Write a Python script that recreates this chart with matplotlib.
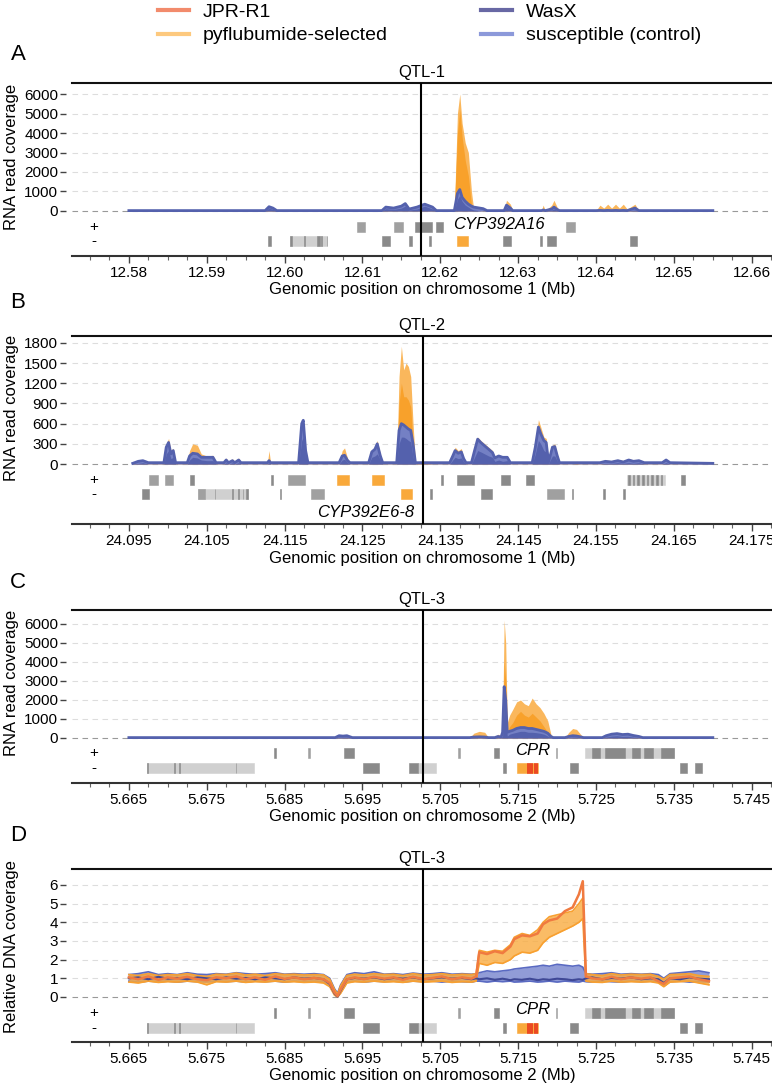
import matplotlib
matplotlib.use('Agg')
import matplotlib.pyplot as plt
from matplotlib.lines import Line2D
from matplotlib.ticker import MultipleLocator, FormatStrFormatter

plt.rcParams['font.family'] = ['Liberation Sans', 'DejaVu Sans']

# 色
ORANGE = '#F8A12B'
ORANGE_LIGHT = '#FAB75C'
BLUE = '#5461AD'
BLUE_LIGHT = '#7480C4'
JPR_COL = '#F07A40'
WASX_COL = '#3F4896'
GENE_COLS = {'l': '#D0D0D0', 'm': '#A0A0A0', 'd': '#8A8A8A', 'o': '#F9A93B', 'r': '#E8301C'}

legend_labels = ['JPR-R1', 'pyflubumide-selected', 'WasX', 'susceptible (control)']
legend_cols = ['#F28B6C', '#FDC97E', '#6868A4', '#8C99DA']

# ---- A: QTL-1, RNA coverage (chromosome 1) ----
a_ticks = [12.58, 12.59, 12.60, 12.61, 12.62, 12.63, 12.64, 12.65, 12.66]
a_qtl = 12.6175
a_pos = [12.5800, 12.5975, 12.5980, 12.5985, 12.5990, 12.6000, 12.6010, 12.6045, 12.6050, 12.6125,
         12.6130, 12.6140, 12.6150, 12.6155, 12.6160, 12.6170, 12.6180, 12.6190, 12.6195, 12.6205,
         12.6218, 12.6222, 12.6225, 12.6228, 12.6232, 12.6236, 12.6240, 12.6243, 12.6255, 12.6260,
         12.6282, 12.6285, 12.6290, 12.6293, 12.6330, 12.6332, 12.6335, 12.6343, 12.6346, 12.6350,
         12.6353, 12.6400, 12.6405, 12.6410, 12.6415, 12.6420, 12.6425, 12.6430, 12.6435, 12.6440,
         12.6450, 12.6455, 12.6550]
a_orange_hi = [20, 20, 280, 180, 20, 60, 20, 70, 20, 20,
               250, 200, 300, 450, 150, 250, 420, 250, 20, 60,
               20, 5000, 6000, 4500, 3500, 3000, 1000, 50, 20, 20,
               20, 550, 350, 20, 20, 300, 20, 300, 550, 200,
               20, 20, 300, 150, 350, 150, 350, 150, 350, 100,
               350, 20, 20]
a_orange_lo = [0, 0, 150, 80, 0, 0, 0, 0, 0, 0,
               120, 100, 150, 250, 50, 100, 250, 100, 0, 0,
               0, 4000, 5200, 3800, 2600, 1800, 300, 0, 0, 0,
               0, 300, 150, 0, 0, 100, 0, 100, 250, 50,
               0, 0, 100, 50, 100, 50, 100, 50, 100, 20,
               100, 0, 0]
a_blue_hi = [20, 20, 220, 150, 20, 20, 20, 20, 20, 20,
             200, 150, 250, 380, 100, 200, 350, 200, 20, 20,
             20, 900, 1100, 700, 500, 350, 250, 200, 120, 20,
             20, 300, 150, 20, 20, 50, 20, 100, 200, 80,
             20, 20, 30, 20, 30, 20, 30, 20, 30, 20,
             150, 20, 20]
a_blue_lo = [0, 0, 150, 80, 0, 0, 0, 0, 0, 0,
             120, 80, 150, 250, 50, 100, 250, 100, 0, 0,
             0, 600, 800, 500, 300, 200, 100, 50, 0, 0,
             0, 200, 80, 0, 0, 0, 0, 50, 100, 30,
             0, 0, 0, 0, 0, 0, 0, 0, 0, 0,
             50, 0, 0]
a_genes = [
    (12.6093, 12.6103, '+', 'm'), (12.6140, 12.6152, '+', 'm'), (12.6167, 12.6189, '+', 'd'),
    (12.6195, 12.6204, '+', 'd'), (12.6362, 12.6373, '+', 'm'),
    (12.5979, 12.5982, '-', 'd'), (12.6007, 12.6055, '-', 'l'), (12.6007, 12.6009, '-', 'd'),
    (12.6025, 12.6026, '-', 'd'), (12.6041, 12.6045, '-', 'd'), (12.6047, 12.6048, '-', 'd'),
    (12.6054, 12.6055, '-', 'd'), (12.6125, 12.6136, '-', 'd'), (12.6160, 12.6163, '-', 'd'),
    (12.6186, 12.6188, '-', 'd'), (12.6221, 12.6236, '-', 'o'), (12.6280, 12.6291, '-', 'd'),
    (12.6328, 12.6330, '-', 'd'), (12.6337, 12.6348, '-', 'd'), (12.6444, 12.6453, '-', 'd'),
]

# ---- B: QTL-2, RNA coverage (chromosome 1) ----
b_ticks = [24.095, 24.105, 24.115, 24.125, 24.135, 24.145, 24.155, 24.165, 24.175]
b_qtl = 24.1328
b_pos = [24.0955, 24.0962, 24.0968, 24.0975, 24.0995, 24.0998, 24.1001, 24.1004, 24.1007, 24.1010,
         24.1025, 24.1028, 24.1032, 24.1038, 24.1043, 24.1050, 24.1058, 24.1062, 24.1072, 24.1075,
         24.1078, 24.1083, 24.1086, 24.1091, 24.1094, 24.1128, 24.1130, 24.1132, 24.1168, 24.1172,
         24.1174, 24.1177, 24.1180, 24.1220, 24.1224, 24.1227, 24.1231, 24.1234, 24.1258, 24.1262,
         24.1266, 24.1269, 24.1273, 24.1276, 24.1294, 24.1297, 24.1300, 24.1303, 24.1306, 24.1309,
         24.1312, 24.1315, 24.1318, 24.1322, 24.1335, 24.1340, 24.1362, 24.1366, 24.1369, 24.1373,
         24.1377, 24.1380, 24.1383, 24.1390, 24.1394, 24.1398, 24.1402, 24.1407, 24.1412, 24.1417,
         24.1420, 24.1425, 24.1430, 24.1436, 24.1440, 24.1468, 24.1472, 24.1476, 24.1479, 24.1483,
         24.1486, 24.1489, 24.1494, 24.1497, 24.1500, 24.1503, 24.1520, 24.1525, 24.1530, 24.1555,
         24.1562, 24.1570, 24.1578, 24.1585, 24.1592, 24.1598, 24.1605, 24.1612, 24.1635, 24.1640,
         24.1645, 24.1700]
b_orange_hi = [10, 50, 60, 20, 30, 300, 380, 200, 230, 20,
               30, 200, 300, 280, 150, 120, 130, 20, 20, 90,
               20, 80, 20, 90, 20, 20, 200, 20, 20, 500,
               600, 150, 20, 20, 200, 240, 80, 20, 20, 200,
               250, 350, 150, 20, 20, 1300, 1750, 1400, 1500, 1450,
               1300, 600, 20, 40, 40, 20, 20, 150, 250, 200,
               230, 100, 20, 20, 250, 400, 350, 300, 250, 200,
               100, 140, 110, 120, 20, 20, 300, 660, 550, 400,
               380, 50, 280, 300, 150, 20, 20, 40, 20, 30,
               60, 50, 70, 50, 80, 60, 70, 30, 30, 80,
               20, 10]
b_orange_lo = [0, 10, 20, 0, 0, 150, 200, 80, 100, 0,
               0, 80, 150, 120, 60, 50, 50, 0, 0, 30,
               0, 20, 0, 20, 0, 0, 80, 0, 0, 250,
               300, 50, 0, 0, 80, 100, 20, 0, 0, 100,
               120, 150, 50, 0, 0, 900, 1200, 1000, 1000, 950,
               850, 300, 0, 10, 10, 0, 0, 60, 100, 80,
               90, 30, 0, 0, 100, 200, 180, 150, 120, 100,
               40, 60, 40, 50, 0, 0, 150, 300, 300, 200,
               180, 10, 120, 120, 50, 0, 0, 10, 0, 0,
               20, 10, 20, 10, 20, 20, 20, 0, 0, 20,
               0, 0]
b_blue_hi = [10, 40, 50, 20, 20, 250, 320, 150, 200, 20,
             20, 120, 160, 150, 100, 100, 100, 20, 20, 60,
             20, 50, 20, 60, 20, 20, 50, 20, 20, 600,
             650, 200, 20, 20, 120, 130, 50, 20, 20, 180,
             220, 300, 120, 20, 20, 500, 600, 580, 550, 520,
             500, 300, 20, 20, 20, 20, 20, 120, 200, 160,
             180, 80, 20, 20, 200, 370, 320, 270, 220, 170,
             90, 120, 100, 100, 20, 20, 250, 550, 450, 350,
             320, 30, 250, 260, 130, 20, 20, 20, 20, 20,
             40, 30, 50, 30, 60, 40, 50, 20, 20, 60,
             20, 10]
b_blue_lo = [0, 10, 20, 0, 0, 150, 200, 80, 100, 0,
             0, 60, 100, 90, 60, 50, 50, 0, 0, 20,
             0, 20, 0, 20, 0, 0, 20, 0, 0, 350,
             400, 80, 0, 0, 60, 70, 20, 0, 0, 100,
             120, 150, 60, 0, 0, 300, 400, 400, 380, 350,
             330, 100, 0, 0, 0, 0, 0, 60, 100, 80,
             90, 30, 0, 0, 100, 200, 180, 150, 120, 100,
             40, 60, 40, 50, 0, 0, 150, 350, 300, 200,
             180, 10, 120, 120, 50, 0, 0, 0, 0, 0,
             10, 10, 20, 10, 20, 10, 20, 0, 0, 20,
             0, 0]
b_genes = [
    (24.0976, 24.0987, '+', 'm'), (24.0997, 24.1007, '+', 'm'), (24.1028, 24.1034, '+', 'd'),
    (24.1133, 24.1135, '+', 'd'), (24.1154, 24.1176, '+', 'm'), (24.1217, 24.1233, '+', 'o'),
    (24.1262, 24.1278, '+', 'o'), (24.1351, 24.1353, '+', 'd'), (24.1371, 24.1393, '+', 'd'),
    (24.1428, 24.1439, '+', 'd'), (24.1460, 24.1470, '+', 'd'), (24.1590, 24.1639, '+', 'l'),
    (24.1591, 24.1593, '+', 'd'), (24.1597, 24.1599, '+', 'd'), (24.1603, 24.1605, '+', 'd'),
    (24.1609, 24.1611, '+', 'd'), (24.1615, 24.1617, '+', 'd'), (24.1621, 24.1623, '+', 'd'),
    (24.1627, 24.1629, '+', 'd'), (24.1633, 24.1635, '+', 'd'), (24.1659, 24.1664, '+', 'd'),
    (24.0967, 24.0976, '-', 'd'), (24.1039, 24.1103, '-', 'l'), (24.1039, 24.1048, '-', 'm'),
    (24.1060, 24.1061, '-', 'd'), (24.1083, 24.1084, '-', 'd'), (24.1090, 24.1091, '-', 'd'),
    (24.1096, 24.1097, '-', 'd'), (24.1101, 24.1103, '-', 'd'), (24.1144, 24.1146, '-', 'd'),
    (24.1184, 24.1201, '-', 'm'), (24.1299, 24.1314, '-', 'o'), (24.1337, 24.1339, '-', 'd'),
    (24.1402, 24.1417, '-', 'd'), (24.1487, 24.1509, '-', 'm'), (24.1519, 24.1521, '-', 'd'),
    (24.1559, 24.1561, '-', 'd'), (24.1585, 24.1587, '-', 'd'),
]

# ---- C / D: QTL-3 (chromosome 2) ----
cd_ticks = [5.665, 5.675, 5.685, 5.695, 5.705, 5.715, 5.725, 5.735, 5.745]
cd_qtl = 5.7028
c_pos = [5.6650, 5.6915, 5.6920, 5.6925, 5.6930, 5.6937, 5.7010, 5.7013, 5.7016, 5.7088,
         5.7093, 5.7100, 5.7107, 5.7112, 5.7120, 5.7124, 5.7128, 5.7130, 5.7132, 5.7134,
         5.7136, 5.7139, 5.7143, 5.7148, 5.7153, 5.7158, 5.7163, 5.7168, 5.7173, 5.7178,
         5.7183, 5.7188, 5.7192, 5.7195, 5.7210, 5.7215, 5.7220, 5.7225, 5.7230, 5.7234,
         5.7258, 5.7263, 5.7270, 5.7277, 5.7284, 5.7291, 5.7298, 5.7305, 5.7310, 5.7330,
         5.7340, 5.7360, 5.7380, 5.7400]
c_orange_hi = [20, 20, 100, 80, 110, 20, 20, 60, 20, 20,
               250, 350, 300, 20, 20, 200, 100, 600, 6200, 5000,
               800, 1200, 1500, 1900, 2000, 1800, 1700, 2100, 1800, 1600,
               1300, 900, 200, 20, 20, 300, 500, 450, 200, 20,
               20, 150, 250, 280, 200, 230, 150, 100, 20, 20,
               40, 30, 40, 20]
c_orange_lo = [0, 0, 30, 20, 30, 0, 0, 10, 0, 0,
               100, 150, 120, 0, 0, 50, 20, 200, 4000, 3000,
               300, 600, 800, 1200, 1400, 1200, 1100, 1300, 1100, 900,
               600, 300, 20, 0, 0, 100, 200, 200, 50, 0,
               0, 50, 100, 100, 80, 80, 50, 30, 0, 0,
               0, 0, 0, 0]
c_blue_hi = [20, 20, 120, 100, 120, 20, 20, 20, 20, 20,
             50, 60, 50, 20, 20, 80, 50, 300, 2700, 2000,
             300, 350, 400, 500, 550, 550, 500, 500, 450, 400,
             350, 250, 80, 20, 20, 80, 120, 100, 60, 20,
             20, 120, 200, 230, 180, 200, 130, 80, 20, 20,
             20, 20, 20, 20]
c_blue_lo = [0, 0, 50, 40, 50, 0, 0, 0, 0, 0,
             10, 10, 10, 0, 0, 20, 10, 100, 1600, 1000,
             100, 200, 250, 300, 350, 350, 300, 300, 280, 250,
             200, 100, 20, 0, 0, 20, 50, 40, 10, 0,
             0, 50, 100, 120, 80, 90, 50, 20, 0, 0,
             0, 0, 0, 0]

d_pos = [5.6650, 5.6662, 5.6675, 5.6688, 5.6700, 5.6712, 5.6725, 5.6738, 5.6750, 5.6762,
         5.6775, 5.6788, 5.6800, 5.6812, 5.6825, 5.6838, 5.6850, 5.6862, 5.6875, 5.6888,
         5.6900, 5.6908, 5.6914, 5.6918, 5.6922, 5.6930, 5.6940, 5.6952, 5.6965, 5.6978,
         5.6990, 5.7002, 5.7015, 5.7028, 5.7040, 5.7052, 5.7065, 5.7078, 5.7090, 5.7096,
         5.7100, 5.7110, 5.7120, 5.7130, 5.7140, 5.7145, 5.7155, 5.7165, 5.7175, 5.7182,
         5.7190, 5.7200, 5.7210, 5.7220, 5.7228, 5.7233, 5.7237, 5.7245, 5.7258, 5.7270,
         5.7282, 5.7295, 5.7308, 5.7320, 5.7330, 5.7337, 5.7345, 5.7358, 5.7370, 5.7382,
         5.7395]
d_jpr = [1.05, 0.95, 1.10, 0.92, 1.05, 0.98, 1.08, 0.95, 0.90, 1.05,
         1.00, 1.10, 0.95, 1.05, 0.92, 1.10, 0.97, 1.05, 0.95, 1.02,
         0.95, 0.75, 0.25, 0.05, 0.40, 0.95, 1.05, 0.95, 1.08, 0.98,
         1.05, 0.92, 1.08, 0.95, 1.02, 1.10, 0.95, 1.05, 0.98, 1.10,
         2.40, 2.30, 2.45, 2.35, 2.70, 3.10, 3.30, 3.25, 3.40, 3.90,
         4.10, 4.20, 4.60, 4.80, 5.50, 6.20, 1.10, 1.00, 0.95, 1.08,
         0.95, 1.05, 0.98, 1.05, 0.85, 0.70, 1.00, 1.05, 1.10, 0.95,
         0.85]
d_orange_hi = [1.20, 1.15, 1.25, 1.15, 1.20, 1.18, 1.25, 1.15, 1.10, 1.22,
               1.20, 1.28, 1.18, 1.22, 1.15, 1.25, 1.20, 1.22, 1.18, 1.20,
               1.18, 0.95, 0.40, 0.15, 0.60, 1.15, 1.22, 1.18, 1.25, 1.20,
               1.22, 1.15, 1.25, 1.18, 1.20, 1.25, 1.18, 1.22, 1.20, 1.25,
               2.50, 2.40, 2.50, 2.45, 2.80, 3.20, 3.40, 3.30, 3.60, 4.00,
               4.30, 4.40, 4.50, 4.60, 5.00, 5.30, 1.25, 1.20, 1.15, 1.25,
               1.18, 1.22, 1.20, 1.22, 1.10, 0.95, 1.20, 1.22, 1.25, 1.15,
               1.10]
d_orange_lo = [0.80, 0.75, 0.85, 0.78, 0.82, 0.80, 0.85, 0.80, 0.65, 0.82,
               0.80, 0.85, 0.78, 0.82, 0.80, 0.85, 0.80, 0.82, 0.78, 0.80,
               0.75, 0.55, 0.10, 0.00, 0.20, 0.75, 0.82, 0.80, 0.85, 0.80,
               0.82, 0.78, 0.85, 0.80, 0.82, 0.85, 0.78, 0.82, 0.80, 0.85,
               1.80, 1.70, 1.85, 1.80, 2.00, 2.20, 2.40, 2.35, 2.50, 2.90,
               3.20, 3.40, 3.60, 3.80, 4.00, 4.20, 0.85, 0.80, 0.78, 0.85,
               0.80, 0.82, 0.80, 0.82, 0.75, 0.55, 0.80, 0.82, 0.85, 0.75,
               0.65]
d_blue_hi = [1.20, 1.25, 1.35, 1.20, 1.25, 1.20, 1.30, 1.22, 1.20, 1.25,
             1.22, 1.30, 1.25, 1.22, 1.25, 1.30, 1.22, 1.25, 1.22, 1.25,
             1.20, 1.00, 0.45, 0.20, 0.65, 1.20, 1.30, 1.25, 1.35, 1.22,
             1.25, 1.20, 1.28, 1.22, 1.25, 1.30, 1.22, 1.25, 1.22, 1.25,
             1.30, 1.40, 1.35, 1.40, 1.45, 1.50, 1.55, 1.60, 1.65, 1.70,
             1.65, 1.75, 1.70, 1.65, 1.70, 1.60, 1.25, 1.22, 1.25, 1.30,
             1.22, 1.25, 1.22, 1.25, 1.20, 1.00, 1.25, 1.30, 1.35, 1.40,
             1.30]
d_blue_lo = [0.85, 0.80, 0.85, 0.82, 0.85, 0.80, 0.85, 0.82, 0.80, 0.85,
             0.82, 0.85, 0.80, 0.85, 0.82, 0.85, 0.80, 0.85, 0.82, 0.85,
             0.80, 0.60, 0.15, 0.00, 0.25, 0.80, 0.85, 0.80, 0.85, 0.82,
             0.85, 0.80, 0.85, 0.82, 0.85, 0.80, 0.85, 0.82, 0.80, 0.85,
             0.85, 0.80, 0.85, 0.82, 0.85, 0.80, 0.82, 0.85, 0.80, 0.82,
             0.85, 0.80, 0.85, 0.82, 0.80, 0.85, 0.82, 0.80, 0.85, 0.82,
             0.80, 0.85, 0.82, 0.85, 0.80, 0.60, 0.82, 0.85, 0.80, 0.82,
             0.80]
d_wasx = [1.00, 1.05, 0.95, 1.08, 0.98, 1.02, 0.95, 1.05, 1.00, 0.95,
          1.05, 0.98, 1.02, 0.95, 1.05, 1.00, 0.95, 1.05, 0.98, 1.02,
          0.95, 0.70, 0.20, 0.02, 0.35, 0.95, 1.02, 0.98, 1.05, 0.95,
          1.02, 0.98, 1.05, 0.95, 1.00, 1.05, 0.98, 1.02, 0.95, 1.00,
          0.95, 1.00, 0.92, 0.98, 0.90, 0.95, 0.92, 0.98, 0.90, 0.95,
          0.92, 0.98, 0.95, 0.90, 0.95, 0.92, 1.00, 1.05, 0.95, 1.02,
          0.98, 1.05, 0.95, 1.00, 0.95, 0.75, 1.00, 0.95, 1.05, 0.98,
          0.95]
cd_genes = [
    (5.6837, 5.6839, '+', 'd'), (5.6880, 5.6882, '+', 'm'), (5.6926, 5.6939, '+', 'd'),
    (5.7073, 5.7075, '+', 'm'), (5.7119, 5.7126, '+', 'd'), (5.7198, 5.7200, '+', 'm'),
    (5.7236, 5.7350, '+', 'l'), (5.7245, 5.7255, '+', 'd'), (5.7262, 5.7287, '+', 'd'),
    (5.7296, 5.7306, '+', 'd'), (5.7312, 5.7323, '+', 'd'), (5.7333, 5.7350, '+', 'd'),
    (5.6673, 5.6811, '-', 'l'), (5.6673, 5.6674, '-', 'd'), (5.6708, 5.6709, '-', 'd'),
    (5.6715, 5.6716, '-', 'd'), (5.6787, 5.6788, '-', 'd'), (5.6951, 5.6971, '-', 'd'),
    (5.7010, 5.7021, '-', 'd'), (5.7021, 5.7044, '-', 'l'), (5.7130, 5.7134, '-', 'd'),
    (5.7148, 5.7176, '-', 'o'), (5.7161, 5.7162, '-', 'r'), (5.7164, 5.7165, '-', 'r'),
    (5.7167, 5.7168, '-', 'r'), (5.7170, 5.7171, '-', 'r'), (5.7173, 5.7174, '-', 'r'),
    (5.7216, 5.7227, '-', 'd'), (5.7358, 5.7367, '-', 'd'), (5.7377, 5.7386, '-', 'd'),
]

rna_ticks_big = [0, 1000, 2000, 3000, 4000, 5000, 6000]
rna_ticks_small = [0, 300, 600, 900, 1200, 1500, 1800]
dna_ticks = [0, 1, 2, 3, 4, 5, 6]


def setup_axis(ax, x0, ticks, fmt, ylim, yticks, title, ylabel, ylab_y, xlabel, qtl):
    """軸・グリッド・QTL線の共通設定"""
    ax.set_xlim(x0 - 0.0073, x0 + 0.0826)
    ax.set_ylim(*ylim)
    ax.set_xticks(ticks)
    ax.xaxis.set_major_formatter(FormatStrFormatter(fmt))
    ax.xaxis.set_minor_locator(MultipleLocator(0.0025))
    ax.set_yticks(yticks)
    for s in ['left', 'right']:
        ax.spines[s].set_visible(False)
    ax.spines['left'].set_position(('outward', 4))
    ax.spines['top'].set_linewidth(1.5)
    ax.spines['top'].set_color('#111111')
    ax.spines['bottom'].set_linewidth(1.5)
    ax.spines['bottom'].set_color('#333333')
    ax.tick_params(axis='y', length=4, width=1, color='#444444', pad=2, labelsize=11)
    ax.tick_params(axis='x', which='major', length=5, width=1, color='#444444', pad=2, labelsize=11)
    ax.tick_params(axis='x', which='minor', length=3, width=0.8, color='#666666')
    for t in yticks:
        ax.axhline(t, color='#999999' if t == 0 else '#DDDDDD', ls=(0, (5, 4)), lw=0.8, zorder=0)
    ax.axvline(qtl, color='black', lw=1.5, zorder=6)
    ax.set_title(title, fontsize=12, pad=4)
    ax.set_xlabel(xlabel, fontsize=12, labelpad=2)
    ax.set_ylabel(ylabel, fontsize=12)
    ax.yaxis.set_label_coords(-0.076, ylab_y)


def draw_rna(ax, pos, o_hi, o_lo, b_hi, b_lo):
    """RNAカバレッジ(橙=抵抗性, 青=感受性)"""
    ax.fill_between(pos, 0, o_hi, color=ORANGE_LIGHT, lw=0, zorder=2)
    ax.fill_between(pos, 0, o_lo, color=ORANGE, lw=0, zorder=2)
    ax.fill_between(pos, 0, b_hi, color=BLUE_LIGHT, lw=0, zorder=3)
    ax.fill_between(pos, 0, b_lo, color=BLUE, lw=0, zorder=3)
    ax.plot(pos, b_hi, color=BLUE, lw=2, zorder=4)


def draw_genes(ax, genes, rows, half, name=None):
    """遺伝子トラック(+/-鎖)"""
    order = {'l': 0, 'm': 1, 'd': 2, 'o': 3, 'r': 4}
    for start, end, strand, kind in sorted(genes, key=lambda g: order[g[3]]):
        y = rows[strand]
        ax.axvspan(start, end, ymin=y - half, ymax=y + half, color=GENE_COLS[kind],
                   lw=0.4, zorder=2 + order[kind] * 0.1)
    for strand, y in rows.items():
        ax.text(0.031, y, strand, transform=ax.transAxes, ha='center', va='center', fontsize=11)
    if name:
        x, y, text, ha = name
        ax.text(x, y, text, transform=ax.get_xaxis_transform(), ha=ha, va='center',
                style='italic', fontsize=12)


def main():
    fig = plt.figure(figsize=(7.72, 10.87), dpi=100)
    ax_a = fig.add_axes([0.0933, 0.7645, 0.9067, 0.1592])
    ax_b = fig.add_axes([0.0933, 0.5179, 0.9067, 0.1730])
    ax_c = fig.add_axes([0.0933, 0.2797, 0.9067, 0.1592])
    ax_d = fig.add_axes([0.0933, 0.0414, 0.9067, 0.1592])

    xlab1 = 'Genomic position on chromosome 1 (Mb)'
    xlab2 = 'Genomic position on chromosome 2 (Mb)'

    # A
    setup_axis(ax_a, 12.58, a_ticks, '%.2f', (-2308, 6568), rna_ticks_big,
               'QTL-1', 'RNA read coverage', 0.57, xlab1, a_qtl)
    draw_rna(ax_a, a_pos, a_orange_hi, a_orange_lo, a_blue_hi, a_blue_lo)
    draw_genes(ax_a, a_genes, {'+': 0.170, '-': 0.087}, 0.029,
               (12.6217, 0.18, 'CYP392A16', 'left'))

    # B
    setup_axis(ax_b, 24.095, b_ticks, '%.3f', (-892, 1903), rna_ticks_small,
               'QTL-2', 'RNA read coverage', 0.62, xlab1, b_qtl)
    draw_rna(ax_b, b_pos, b_orange_hi, b_orange_lo, b_blue_hi, b_blue_lo)
    draw_genes(ax_b, b_genes, {'+': 0.234, '-': 0.160}, 0.027,
               (24.1317, 0.064, 'CYP392E6-8', 'right'))

    # C
    setup_axis(ax_c, 5.665, cd_ticks, '%.3f', (-2367, 6738), rna_ticks_big,
               'QTL-3', 'RNA read coverage', 0.58, xlab2, cd_qtl)
    draw_rna(ax_c, c_pos, c_orange_hi, c_orange_lo, c_blue_hi, c_blue_lo)
    draw_genes(ax_c, cd_genes, {'+': 0.173, '-': 0.087}, 0.029,
               (5.7146, 0.185, 'CPR', 'left'))

    # D: 相対DNAカバレッジ
    setup_axis(ax_d, 5.665, cd_ticks, '%.3f', (-2.41, 6.857), dna_ticks,
               'QTL-3', 'Relative DNA coverage', 0.55, xlab2, cd_qtl)
    ax_d.fill_between(d_pos, d_blue_lo, d_blue_hi, color='#6272C6', alpha=0.7, lw=0, zorder=2)
    ax_d.plot(d_pos, d_blue_hi, color='#5A6AC2', lw=1.2, zorder=2)
    ax_d.plot(d_pos, d_blue_lo, color='#5A6AC2', lw=1.2, zorder=2)
    ax_d.fill_between(d_pos, d_orange_lo, d_orange_hi, color='#F9AC40', alpha=0.8, lw=0, zorder=3)
    ax_d.plot(d_pos, d_orange_hi, color='#F8A030', lw=1.2, zorder=3)
    ax_d.plot(d_pos, d_orange_lo, color='#F8A030', lw=1.2, zorder=3)
    ax_d.plot(d_pos, d_wasx, color=WASX_COL, lw=1.5, zorder=4)
    ax_d.plot(d_pos, d_jpr, color=JPR_COL, lw=1.8, zorder=4)
    draw_genes(ax_d, cd_genes, {'+': 0.168, '-': 0.081}, 0.029,
               (5.7146, 0.185, 'CPR', 'left'))

    # パネル記号
    for letter, y in zip('ABCD', [0.950, 0.722, 0.4637, 0.2318]):
        fig.text(0.0233, y, letter, fontsize=16, ha='center', va='center')

    handles = [Line2D([], [], color=c, lw=3) for c in legend_cols]
    fig.legend(handles, legend_labels, loc='upper left', bbox_to_anchor=(0.2047, 0.997),
               ncol=2, frameon=False, fontsize=14, handlelength=1.6, handletextpad=0.7,
               columnspacing=4.8, labelspacing=0.3, borderpad=0, borderaxespad=0)

    fig.savefig('out.png', dpi=100)


if __name__ == '__main__':
    main()
